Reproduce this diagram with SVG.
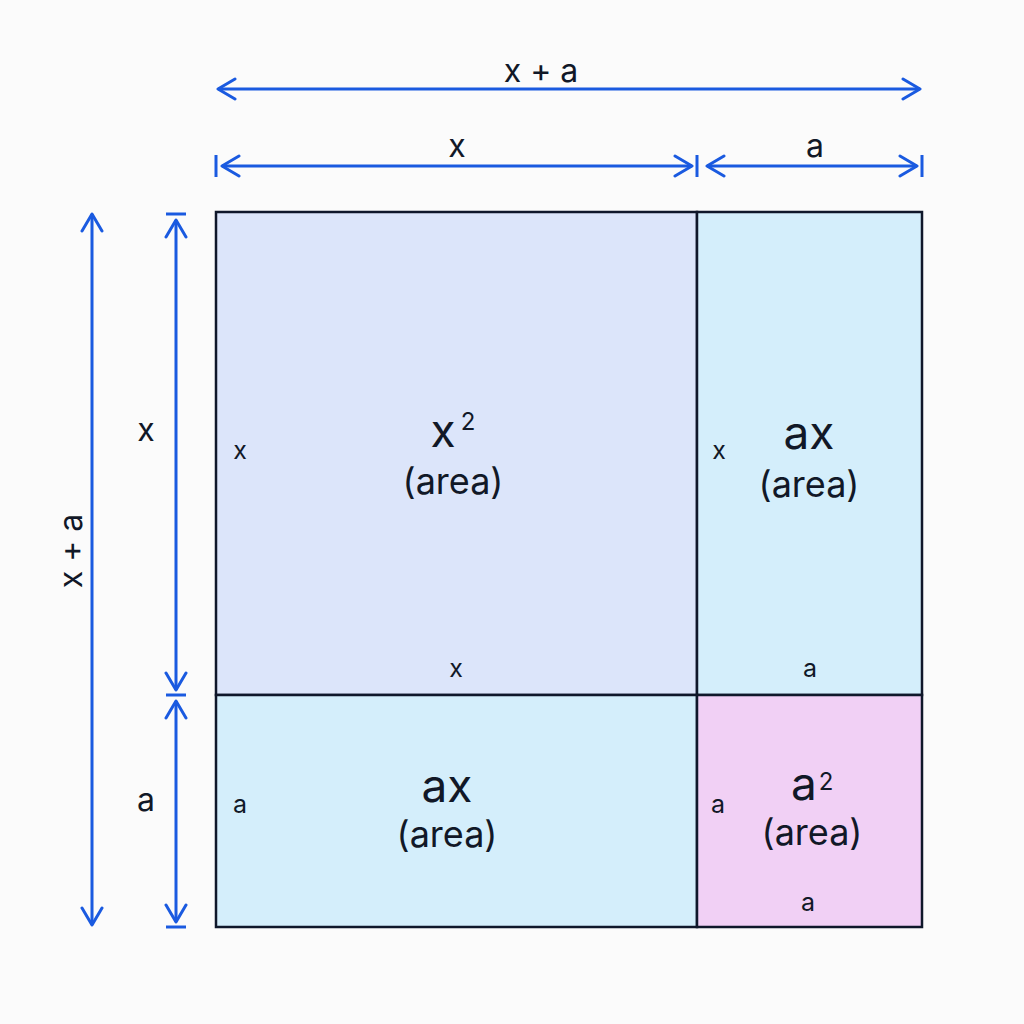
<svg xmlns="http://www.w3.org/2000/svg" width="1024" height="1024" viewBox="0 0 1024 1024">
<defs>
<marker id="ah" viewBox="-20 -12 24 24" markerWidth="24" markerHeight="24" refX="0" refY="0" markerUnits="userSpaceOnUse" orient="auto-start-reverse">
<polyline points="-17,-10 0,0 -17,10" fill="none" stroke="#1a5ae0" stroke-width="3" stroke-linecap="round" stroke-linejoin="round"/>
</marker>
</defs>
<style>
.dim{stroke:#1a5ae0;stroke-width:3;fill:none}
.arr{marker-start:url(#ah);marker-end:url(#ah)}
.cell{stroke:#0f172a;stroke-width:2.5}
text{font-family:Inter,"Noto Sans","Liberation Sans",sans-serif;fill:#111827;text-anchor:middle}
.lbl{font-size:32px}
.sm{font-size:25px}
.big{font-size:46px}
.ar{font-size:36px}
.sup{font-size:24px}
</style>
<rect width="1024" height="1024" fill="#fbfbfb"/>
<g id="cell-x2"><rect class="cell" x="216" y="212" width="481" height="483" fill="#dce5fa"/>
<text class="big" x="443" y="447">x</text><text class="sup" x="468" y="430">2</text>
<text class="ar" x="453" y="494">(area)</text>
<text class="sm" x="240" y="459">x</text>
<text class="sm" x="456" y="677">x</text>
</g>
<g id="cell-ax-top"><rect class="cell" x="697" y="212" width="225" height="483" fill="#d4eefb"/>
<text class="big" x="809" y="449">ax</text>
<text class="ar" x="809" y="497">(area)</text>
<text class="sm" x="719" y="459">x</text>
<text class="sm" x="810" y="677">a</text>
</g>
<g id="cell-ax-bottom"><rect class="cell" x="216" y="695" width="481" height="232" fill="#d4eefb"/>
<text class="big" x="447" y="802">ax</text>
<text class="ar" x="447" y="847">(area)</text>
<text class="sm" x="240" y="813">a</text>
</g>
<g id="cell-a2"><rect class="cell" x="697" y="695" width="225" height="232" fill="#f1d0f5"/>
<text class="big" x="804" y="800">a</text><text class="sup" x="826" y="790">2</text>
<text class="ar" x="812" y="845">(area)</text>
<text class="sm" x="718" y="813">a</text>
<text class="sm" x="808" y="911">a</text>
</g>
<g id="connectors">
<line class="dim arr" x1="218" y1="89" x2="920" y2="89"/>
<line class="dim" x1="216" y1="155" x2="216" y2="177"/>
<line class="dim" x1="697" y1="155" x2="697" y2="177"/>
<line class="dim" x1="922" y1="155" x2="922" y2="177"/>
<line class="dim arr" x1="222" y1="166" x2="692" y2="166"/>
<line class="dim arr" x1="707" y1="166" x2="917" y2="166"/>
<line class="dim arr" x1="92" y1="214" x2="92" y2="925"/>
<line class="dim" x1="166" y1="214" x2="186" y2="214"/>
<line class="dim" x1="166" y1="695" x2="186" y2="695"/>
<line class="dim" x1="166" y1="927" x2="186" y2="927"/>
<line class="dim arr" x1="176" y1="220" x2="176" y2="690"/>
<line class="dim arr" x1="176" y1="701" x2="176" y2="922"/>
</g>
<g id="labels">
<text class="lbl" x="541" y="82">x + a</text>
<text class="lbl" x="457" y="157">x</text>
<text class="lbl" x="815" y="157">a</text>
<text class="lbl" x="146" y="441">x</text>
<text class="lbl" x="146" y="811">a</text>
<text class="lbl" transform="translate(82,551) rotate(-90)">x + a</text>
</g>
</svg>
